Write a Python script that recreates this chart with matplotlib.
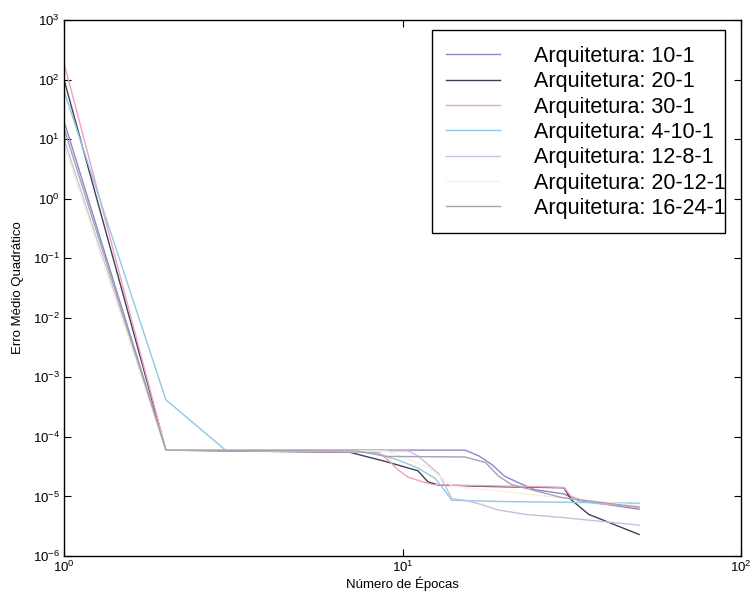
import matplotlib
matplotlib.use("Agg")
from matplotlib import pyplot as plt
from matplotlib.patches import Rectangle
from matplotlib.ticker import LogLocator, LogFormatterSciNotation, NullLocator

plt.rcParams['font.family'] = ['Liberation Sans', 'DejaVu Sans']
plt.rcParams['mathtext.default'] = 'regular'

# training error curves (epoch, mean squared error)
labels = ['Arquitetura: 10-1', 'Arquitetura: 20-1', 'Arquitetura: 30-1',
          'Arquitetura: 4-10-1', 'Arquitetura: 12-8-1', 'Arquitetura: 20-12-1',
          'Arquitetura: 16-24-1']

ep_10_1 = [1, 2, 15.3, 16.8, 18.4, 20, 22, 24.6, 30, 33, 50]
mse_10_1 = [20, 6.0e-5, 6.0e-5, 4.8e-5, 3.4e-5, 2.2e-5, 1.7e-5, 1.3e-5, 1.1e-5, 8.6e-6, 6.1e-6]

ep_20_1 = [1, 2, 7, 9, 10.4, 11.1, 11.9, 12.8, 18, 30, 31.5, 35.5, 50]
mse_20_1 = [100, 6.0e-5, 5.5e-5, 3.8e-5, 3.0e-5, 2.7e-5, 1.75e-5, 1.55e-5, 1.47e-5, 1.4e-5, 8.8e-6, 5.0e-6, 2.3e-6]

ep_30_1 = [1, 2, 8.5, 9.1, 9.7, 10.4, 11.5, 12.3, 30, 31.5, 36, 50]
mse_30_1 = [190, 6.0e-5, 5.5e-5, 4.0e-5, 2.8e-5, 2.1e-5, 1.75e-5, 1.58e-5, 1.42e-5, 1.0e-5, 7.8e-6, 6.6e-6]

ep_4_10_1 = [1, 2, 3, 8, 9.7, 11.1, 12.5, 13.4, 14, 20, 50]
mse_4_10_1 = [65, 4.2e-4, 6.0e-5, 5.6e-5, 4.1e-5, 3.0e-5, 2.0e-5, 1.2e-5, 8.6e-6, 8.2e-6, 7.7e-6]

ep_12_8_1 = [1, 2, 10.4, 11.1, 12.8, 14, 15.3, 17, 19, 23, 30, 50]
mse_12_8_1 = [10, 6.0e-5, 5.8e-5, 4.8e-5, 2.4e-5, 9.2e-6, 8.6e-6, 7.4e-6, 6.0e-6, 5.0e-6, 4.4e-6, 3.3e-6]

ep_20_12_1 = [1, 2, 9, 12, 14, 20, 50]
mse_20_12_1 = [8, 6.0e-5, 5.8e-5, 3.0e-5, 1.5e-5, 1.2e-5, 7.0e-6]

ep_16_24_1 = [1, 2, 7.3, 9, 15.3, 17.6, 19.2, 21, 24.6, 29.5, 50]
mse_16_24_1 = [15, 6.0e-5, 5.8e-5, 4.7e-5, 4.6e-5, 3.7e-5, 2.2e-5, 1.58e-5, 1.25e-5, 9.6e-6, 6.6e-6]

series = [(ep_10_1, mse_10_1), (ep_20_1, mse_20_1), (ep_30_1, mse_30_1),
          (ep_4_10_1, mse_4_10_1), (ep_12_8_1, mse_12_8_1),
          (ep_20_12_1, mse_20_12_1), (ep_16_24_1, mse_16_24_1)]
colors = ['#8c88c8', '#404052', '#f0a0c4', '#90c8e8', '#cbbfdc', '#f6f2dc', '#a4a4b0']

W, H = 755, 598
fig = plt.figure(figsize=(W / 100, H / 100), dpi=100)
ax = fig.add_axes([64 / W, 1 - 556 / H, (741 - 64) / W, (556 - 20) / H])

for (ep, mse), c, lab in zip(series, colors, labels):
    ax.plot(ep, mse, color=c, lw=1.0, label=lab)

ax.set_xscale('log')
ax.set_yscale('log')
ax.set_xlim(1, 100)
ax.set_ylim(1e-6, 1e3)
ax.xaxis.set_major_locator(LogLocator(base=10, numticks=10))
ax.yaxis.set_major_locator(LogLocator(base=10, numticks=12))
ax.xaxis.set_major_formatter(LogFormatterSciNotation())
ax.yaxis.set_major_formatter(LogFormatterSciNotation())
ax.xaxis.set_minor_locator(NullLocator())
ax.yaxis.set_minor_locator(NullLocator())
ax.tick_params(direction='in', length=5, width=0.8, top=True, right=True,
               labelsize=9.5, pad=3)
for sp in ax.spines.values():
    sp.set_linewidth(1.0)

ax.set_xlabel('Número de Épocas', fontsize=9.5, labelpad=1)
ax.set_ylabel('Erro Médio Quadrático', fontsize=9.5, labelpad=6)

# legend entries placed like the original, box drawn separately (text runs past it)
leg = ax.legend(loc='upper left', bbox_to_anchor=(446 / W, 1 - 46 / H),
                bbox_transform=fig.transFigure, fontsize=15.5, frameon=False,
                handlelength=2.5, handletextpad=1.6, labelspacing=0.2,
                borderpad=0, borderaxespad=0)
fig.add_artist(Rectangle((432 / W, 1 - 233 / H), (725 - 432) / W, (233 - 30) / H,
                         transform=fig.transFigure, fill=False, ec='black', lw=1.0))

fig.savefig('out.png', dpi=100)
